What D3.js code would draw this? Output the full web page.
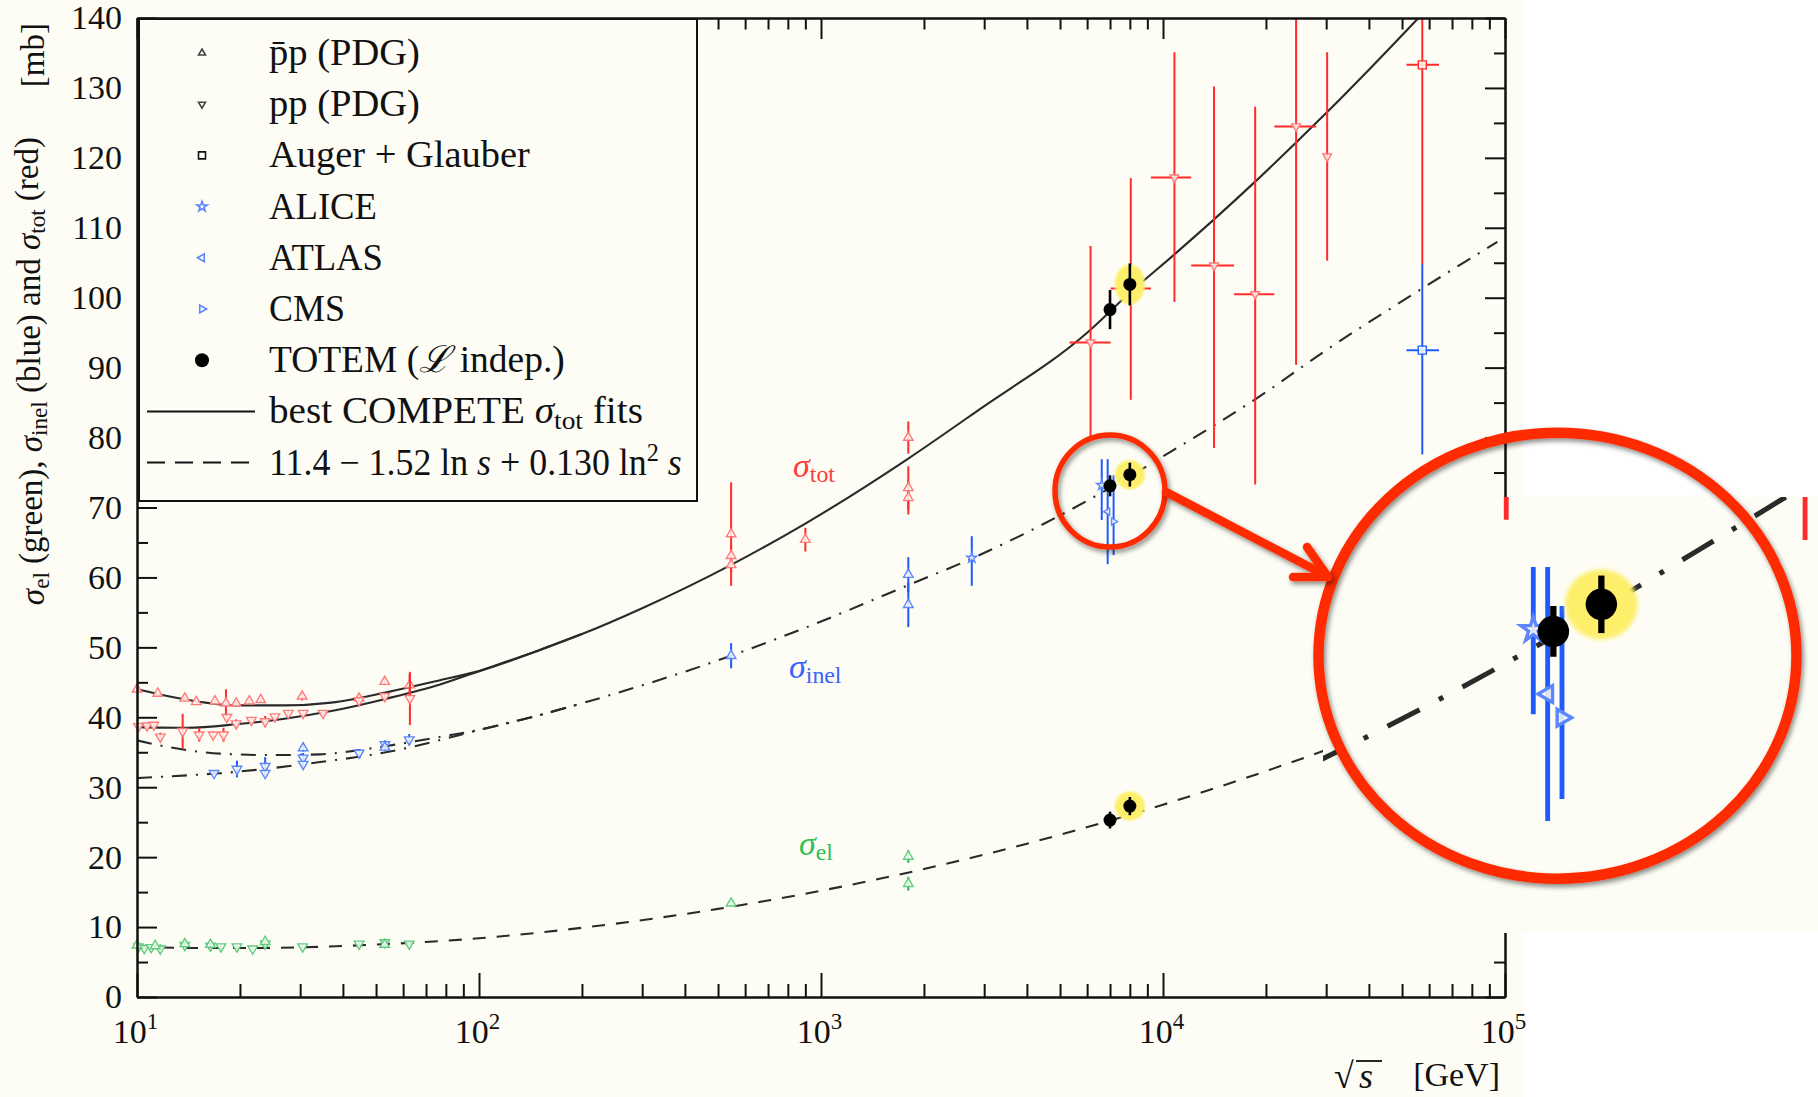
<!DOCTYPE html>
<html>
<head>
<meta charset="utf-8">
<script src="https://cdn.jsdelivr.net/npm/d3@7"></script>
<style>
html, body { margin: 0; padding: 0; background: #fff; }
svg { display: block; }
text { font-family: "Liberation Serif", "Times New Roman", serif; }
</style>
</head>
<body>
<svg id="chart" width="1818" height="1097"></svg>
<script>
// ---- fit curves: [sqrt(s) GeV, sigma mb] ----
const fitTotPbarPLow = [[10,44.0],[14,42.5],[19.5,41.7],[27,41.7],[37,42.1],[54,43.6],[77,45.3]];
const fitTotPPLow = [[10,38.6],[14,38.5],[19.5,39.0],[27,39.8],[37,40.9],[54,42.7],[77,44.7]];
const fitTotHigh = [[100,46.6],[150,49.6],[200,51.9],[300,55.6],[546,61.8],[900,67.7],[1800,77.0],[2900,84.0],[6000,95.0],
  [8000,100.7],[10800,106.2],[14100,111.2],[18600,116.6],[24500,122.2],[30000,126.4],[40000,132.6],[54600,139.5],[70000,145.1]];
const fitInelUpperLow = [[10,36.7],[12.5,35.7],[17.5,34.8],[24.5,34.6],[34.3,34.7],[43,35.2],[53.7,35.9],[75,37.1]];
const fitInelLowerLow = [[10,31.3],[14,31.7],[17.5,32.0],[24.5,32.7],[34.3,33.6],[48,34.6],[62.8,35.7],[75,36.6]];
const fitInelHigh = [[100,38.2],[150,40.3],[200,42.0],[546,48.8],[1000,53.7],[1800,58.9],[2760,62.7],[7000,72.8],
  [10000,77.3],[20000,86.5],[30000,92.5],[50000,99.5],[95000,108.0]];
const fitEl = [[10,7.2],[15,7.0],[20,7.0],[30,7.1],[50,7.5],[100,8.4],[200,9.9],[500,12.6],[1000,15.2],[2000,18.3],
  [5000,23.2],[10000,27.5],[20000,32.3],[50000,39.4],[100000,45.3]];

// ---- accelerator data: [sqrt(s), sigma, error] ----
const totPbarP = [[10.0,44.0,0.3],[11.5,43.4,0.3],[13.8,42.7,0.4],[14.9,42.2,0.3],[16.9,42.3,0.3],[18.2,42.0,2.0],
  [19.5,42.0,0.3],[21.3,42.3,0.3],[23.0,42.5,0.3],[30.4,43.0,0.6],[44.6,42.7,0.5],[53.0,45.1,0.5],[62.7,44.6,1.6],
  [546,66.2,7.4],[546,63.1,1.5],[546,61.8,1.0],[900,65.4,1.7],[1800,80.0,2.3],[1800,72.8,3.1],[1800,71.4,2.4]];
const totPP = [[10.1,38.7,0.3],[10.7,38.8,0.3],[11.2,38.9,0.3],[11.7,37.2,0.6],[13.6,38.0,2.5],[15.2,37.5,1.0],
  [16.7,37.5,0.5],[17.9,37.5,1.0],[18.3,40.0,0.5],[19.5,39.1,0.6],[21.6,39.6,0.3],[23.7,39.4,0.8],[25.3,40.1,0.3],
  [27.7,40.6,0.3],[30.6,40.6,0.3],[35.0,40.6,0.3],[44.6,42.4,0.4],[53.0,43.0,0.4],[62.8,42.7,3.8]];
const inelPP = [[16.8,32.0,0.3],[19.6,32.6,1.2],[23.7,33.0,1.3],[23.7,32.0,0.5],[30.6,34.2,0.7],[30.6,33.3,0.5],
  [44.6,34.9,0.4],[53.1,36.1,0.6],[62.5,36.8,0.8]];
const inelPbarP = [[30.6,35.6,0.5],[53.1,35.7,0.4],[546,48.8,1.8],[1800,60.4,2.5],[1800,56.1,3.2]];
const elPP = [[10.1,7.2,0.2],[10.5,7.0,0.2],[11.0,7.1,0.2],[11.7,6.9,0.6],[13.8,7.4,0.7],[16.4,7.3,0.2],[17.6,7.2,0.2],
  [19.6,7.2,0.2],[21.8,6.9,0.2],[23.7,7.6,0.6],[30.5,7.2,0.3],[44.6,7.6,0.2],[53.0,7.8,0.3],[62.5,7.6,0.3]];
const elPbarP = [[10.0,7.4,0.2],[11.3,7.3,0.2],[13.8,7.6,0.4],[16.4,7.5,0.2],[23.7,7.9,0.4],[53.0,7.5,0.3],
  [546,13.4,0.4],[1800,20.1,0.9],[1800,16.2,1.0]];

// ---- cosmic rays: [sqrt(s), sigma, low, high, sqrt(s) low, sqrt(s) high] ----
const cosmicTot = [[6140,93.6,79.7,107.4,5330,7030],[8050,101.3,85.4,117.1,7030,9220],[10800,117.2,99.4,135.1,9220,12090],
  [14100,104.6,78.5,130.2,12090,16140],[18600,100.5,73.3,127.3,16140,21160],[24500,124.5,90.4,150,21160,28050],
  [30200,120.2,105.3,135.1,null,null]];
const augerTot = [[57300,133.3,104.8,160,51500,64100]];
const augerInel = [[57300,92.5,77.6,104.8,51500,64100]];

// ---- LHC inelastic: [sqrt(s), sigma, low, high] ----
const aliceInel = [[2760,62.8,58.8,65.9],[6620,73.2,68.2,76.9]];
const atlasInel = [[6890,69.4,61.9,76.9]];
const cmsInel = [[7170,68.0,63.2,74.6]];

// ---- TOTEM (luminosity independent): [sqrt(s), sigma, error] ----
const totemTot = [[7000,98.3,2.8],[8000,101.9,3.0]];
const totemInel = [[7000,73.1,1.5],[8000,74.7,1.7]];
const totemEl = [[7000,25.3,1.2],[8000,27.3,1.3]];
const highlightS = 8000;

const yTicks = d3.range(0, 141, 10);
const yMinor = d3.range(5, 140, 10);
const xDecades = [10, 100, 1000, 10000, 100000];
const xMinor = [10, 100, 1000, 10000].flatMap(d => d3.range(2, 10).map(k => k * d));

// ---------------------------------------------------------------
const CREAM = '#fdfdf5';
const RED = '#ff2b2b', RED_M = '#ff7b7b';
const BLUE = '#1d5bff', BLUE_M = '#5b86ff';
const GREEN = '#22b04c', GREEN_M = '#5fcd80';
const RING = '#fe2c00';

const svg = d3.select('#chart');
const x = d3.scaleLog().domain([10, 1e5]).range([137, 1505]);
const y = d3.scaleLinear().domain([0, 140]).range([997, 18]);

const defs = svg.append('defs');
defs.append('clipPath').attr('id', 'plotClip')
  .append('rect').attr('x', 0).attr('y', 18).attr('width', 1505).attr('height', 990);
defs.append('clipPath').attr('id', 'insetClip')
  .append('rect').attr('x', 1323).attr('y', 497).attr('width', 495).attr('height', 436);
defs.append('filter').attr('id', 'shadow').attr('x', '-20%').attr('y', '-20%').attr('width', '140%').attr('height', '140%')
  .append('feDropShadow').attr('dx', 2).attr('dy', 3).attr('stdDeviation', 2.5)
  .attr('flood-color', '#000').attr('flood-opacity', 0.45);
defs.append('filter').attr('id', 'soft')
  .append('feGaussianBlur').attr('stdDeviation', 0.8);

svg.append('rect').attr('width', 1818).attr('height', 1097).attr('fill', '#fff');
svg.append('rect').attr('width', 1523).attr('height', 1097).attr('fill', CREAM);

const toErr = arr => arr.map(([s, v, e]) => ({s, v, lo: v - e, hi: v + e}));
const toRange = arr => arr.map(([s, v, lo, hi, sLo, sHi]) => ({s, v, lo, hi, sLo, sHi}));

const shape = (type, r) => {
  const a = r * 0.87, b = r * 0.5;
  switch (type) {
    case 'up': return `M0,${-r}L${a},${b}L${-a},${b}Z`;
    case 'down': return `M0,${r}L${a},${-b}L${-a},${-b}Z`;
    case 'left': return `M${-r},0L${b},${-a}L${b},${a}Z`;
    case 'right': return `M${r},0L${-b},${-a}L${-b},${a}Z`;
    case 'square': return `M${-r},${-r}H${r}V${r}H${-r}Z`;
    case 'star': return d3.symbol(d3.symbolStar, r * r * 1.6)();
  }
};

// ---------------- plot content (also reused by the magnified inset) ----------------
const plot = svg.append('g').attr('id', 'plotContent').attr('clip-path', 'url(#plotClip)');
const line = d3.line().x(d => x(d[0])).y(d => y(d[1])).curve(d3.curveMonotoneX);

const curves = [
  {d: fitEl, dash: '13,11'},
  {d: fitInelUpperLow.concat(fitInelHigh), dash: '15,9,2,9'},
  {d: fitInelLowerLow.concat(fitInelHigh.slice(0, 3)), dash: '15,9,2,9'},
  {d: fitTotPbarPLow.concat(fitTotHigh), dash: null},
  {d: fitTotPPLow.concat(fitTotHigh.slice(0, 3)), dash: null}
];
plot.selectAll('path.fit').data(curves).join('path')
  .attr('class', 'fit')
  .attr('d', c => line(c.d))
  .attr('fill', 'none')
  .attr('stroke', '#2a2a2a')
  .attr('stroke-width', 2.1)
  .attr('stroke-dasharray', c => c.dash);

const series = [
  {pts: toErr(totPbarP), col: RED, mcol: RED_M, m: 'up', r: 5.5},
  {pts: toErr(totPP), col: RED, mcol: RED_M, m: 'down', r: 5.5},
  {pts: toRange(cosmicTot), col: RED, mcol: RED_M, m: 'down', r: 5},
  {pts: toRange(augerTot), col: RED, mcol: RED, m: 'square', r: 4},
  {pts: toErr(inelPP), col: BLUE, mcol: BLUE_M, m: 'down', r: 5.5},
  {pts: toErr(inelPbarP), col: BLUE, mcol: BLUE_M, m: 'up', r: 5.5},
  {pts: toRange(augerInel), col: BLUE, mcol: BLUE, m: 'square', r: 4},
  {pts: toRange(aliceInel), col: BLUE, mcol: BLUE_M, m: 'star', r: 4.5},
  {pts: toRange(atlasInel), col: BLUE, mcol: BLUE_M, m: 'left', r: 4},
  {pts: toRange(cmsInel), col: BLUE, mcol: BLUE_M, m: 'right', r: 4},
  {pts: toErr(elPP), col: GREEN, mcol: GREEN_M, m: 'down', r: 5.5},
  {pts: toErr(elPbarP), col: GREEN, mcol: GREEN_M, m: 'up', r: 5.5}
];

series.forEach(sr => {
  const g = plot.append('g');
  g.selectAll('line.v').data(sr.pts).join('line').attr('class', 'v')
    .attr('x1', d => x(d.s)).attr('x2', d => x(d.s))
    .attr('y1', d => y(d.lo)).attr('y2', d => y(d.hi))
    .attr('stroke', sr.col).attr('stroke-width', 2);
  g.selectAll('line.h').data(sr.pts.filter(d => d.sLo)).join('line').attr('class', 'h')
    .attr('x1', d => x(d.sLo)).attr('x2', d => x(d.sHi))
    .attr('y1', d => y(d.v)).attr('y2', d => y(d.v))
    .attr('stroke', sr.col).attr('stroke-width', 2);
  g.selectAll('path').data(sr.pts).join('path')
    .attr('transform', d => `translate(${x(d.s)},${y(d.v)})`)
    .attr('d', shape(sr.m, sr.r))
    .attr('fill', CREAM).attr('fill-opacity', 0.85)
    .attr('stroke', sr.mcol).attr('stroke-width', 1.4);
});

// TOTEM: yellow highlight for the 8 TeV points, then black points
const totem = [
  {pts: toErr(totemTot), ry: 20},
  {pts: toErr(totemInel), ry: 14.5},
  {pts: toErr(totemEl), ry: 14.5}
];
totem.forEach(t => {
  plot.append('g').selectAll('ellipse').data(t.pts.filter(d => d.s === highlightS)).join('ellipse')
    .attr('cx', d => x(d.s)).attr('cy', d => y(d.v))
    .attr('rx', 15).attr('ry', t.ry)
    .attr('fill', '#fdef6a').attr('filter', 'url(#soft)');
});
totem.forEach(t => {
  const g = plot.append('g');
  g.selectAll('line').data(t.pts).join('line')
    .attr('x1', d => x(d.s)).attr('x2', d => x(d.s))
    .attr('y1', d => y(d.lo)).attr('y2', d => y(d.hi))
    .attr('stroke', '#000').attr('stroke-width', 2.6);
  g.selectAll('circle').data(t.pts).join('circle')
    .attr('cx', d => x(d.s)).attr('cy', d => y(d.v)).attr('r', 6.5).attr('fill', '#000');
});

// ---------------- axes ----------------
const axisStyle = g => {
  g.attr('font-family', '"Liberation Serif", serif').attr('font-size', 34);
  g.select('.domain').attr('stroke', '#111').attr('stroke-width', 2);
  g.selectAll('.tick line').attr('stroke', '#111').attr('stroke-width', 2);
  g.selectAll('.tick text').attr('fill', '#111');
};
svg.append('g').attr('transform', 'translate(137,0)')
  .call(d3.axisLeft(y).tickValues(yTicks).tickSizeInner(-20).tickSizeOuter(0).tickPadding(15).tickFormat(d3.format('d')))
  .call(axisStyle);
svg.append('g').attr('transform', 'translate(137,0)')
  .call(d3.axisLeft(y).tickValues(yMinor).tickSizeInner(-11).tickSizeOuter(0).tickFormat(''))
  .call(axisStyle);
svg.append('g').attr('transform', 'translate(1505,0)')
  .call(d3.axisRight(y).tickValues(yTicks).tickSizeInner(-20).tickSizeOuter(0).tickFormat(''))
  .call(axisStyle);
svg.append('g').attr('transform', 'translate(1505,0)')
  .call(d3.axisRight(y).tickValues(yMinor).tickSizeInner(-11).tickSizeOuter(0).tickFormat(''))
  .call(axisStyle);
svg.append('g').attr('transform', 'translate(0,18)')
  .call(d3.axisTop(x).tickValues(xDecades).tickSizeInner(-21).tickSizeOuter(0).tickFormat(''))
  .call(axisStyle);
svg.append('g').attr('transform', 'translate(0,18)')
  .call(d3.axisTop(x).tickValues(xMinor).tickSizeInner(-11.5).tickSizeOuter(0).tickFormat(''))
  .call(axisStyle);
svg.append('g').attr('transform', 'translate(0,997)')
  .call(d3.axisBottom(x).tickValues(xMinor).tickSizeInner(-13).tickSizeOuter(0).tickFormat(''))
  .call(axisStyle);
const xAxis = svg.append('g').attr('transform', 'translate(0,997)')
  .call(d3.axisBottom(x).tickValues(xDecades).tickSizeInner(-24).tickSizeOuter(0).tickPadding(22))
  .call(axisStyle);
xAxis.selectAll('.tick text').each(function(d) {
  const t = d3.select(this).text(null).attr('dx', -2);
  t.append('tspan').text('10');
  t.append('tspan').attr('font-size', 23).attr('dy', -14).text(Math.round(Math.log10(d)));
});

// axis titles
const yTitle = svg.append('text').attr('transform', 'translate(44,137) rotate(-90)')
  .attr('text-anchor', 'end').attr('font-size', 33).attr('fill', '#111');
const sigma = (t, sub) => {
  t.append('tspan').attr('font-style', 'italic').text('σ');
  t.append('tspan').attr('font-size', '0.7em').attr('dy', '0.22em').text(sub);
};
sigma(yTitle, 'el');
yTitle.append('tspan').attr('dy', -7).text(' (green), ');
sigma(yTitle, 'inel');
yTitle.append('tspan').attr('dy', -7).text(' (blue) and ');
sigma(yTitle, 'tot');
yTitle.append('tspan').attr('dy', -7).text(' (red)');
svg.append('text').attr('transform', 'translate(44,23) rotate(-90)')
  .attr('text-anchor', 'end').attr('font-size', 33).attr('fill', '#111').text('[mb]');

svg.append('text').attr('x', 1334).attr('y', 1088).attr('font-size', 36).attr('fill', '#111').text('√');
svg.append('line').attr('x1', 1356).attr('x2', 1382).attr('y1', 1061).attr('y2', 1061)
  .attr('stroke', '#111').attr('stroke-width', 1.8);
svg.append('text').attr('x', 1359).attr('y', 1088).attr('font-size', 36).attr('font-style', 'italic')
  .attr('fill', '#111').text('s');
svg.append('text').attr('x', 1500).attr('y', 1086).attr('text-anchor', 'end').attr('font-size', 34)
  .attr('fill', '#111').text('[GeV]');

// curve labels
const curveLabel = (xx, yy, col, sub) => {
  const t = svg.append('text').attr('x', xx).attr('y', yy).attr('font-size', 34).attr('fill', col);
  sigma(t, sub);
};
curveLabel(793, 477, '#ff3b3b', 'tot');
curveLabel(789, 678, '#3a62ff', 'inel');
curveLabel(799, 855, '#2fbf55', 'el');

// ---------------- legend ----------------
const legend = svg.append('g');
legend.append('rect').attr('x', 139).attr('y', 19).attr('width', 558).attr('height', 482)
  .attr('fill', CREAM).attr('stroke', '#111').attr('stroke-width', 2);
const legendRows = [
  {m: 'up', c: '#444', r: 4},
  {m: 'down', c: '#444', r: 4},
  {m: 'square', c: '#111', r: 3.5},
  {m: 'star', c: BLUE_M, r: 4.5},
  {m: 'left', c: BLUE_M, r: 4.5},
  {m: 'right', c: BLUE_M, r: 4.5},
  {m: 'dot', c: '#000', r: 7},
  {m: 'solid', c: '#111'},
  {m: 'dash', c: '#111'}
];
const rowY = i => 53 + i * 51.2;
legendRows.forEach((row, i) => {
  const cy = rowY(i);
  if (row.m === 'dot') {
    legend.append('circle').attr('cx', 202).attr('cy', cy).attr('r', row.r).attr('fill', row.c);
  } else if (row.m === 'solid' || row.m === 'dash') {
    legend.append('line').attr('x1', 147).attr('x2', 255).attr('y1', cy).attr('y2', cy)
      .attr('stroke', row.c).attr('stroke-width', 2).attr('stroke-dasharray', row.m === 'dash' ? '18,10' : null);
  } else {
    legend.append('path').attr('transform', `translate(202,${cy})`).attr('d', shape(row.m, row.r))
      .attr('fill', 'none').attr('stroke', row.c).attr('stroke-width', 1.6);
  }
});
// each legend text is stretched horizontally to the width seen in the picture
const ltext = (i, len) => {
  const t = legend.append('text').attr('font-size', 37).attr('fill', '#111');
  t.node().__len = len;
  t.node().__row = i;
  return t;
};
ltext(0, 151).text('p\u0304p (PDG)');
ltext(1, 151).text('pp (PDG)');
ltext(2, 261).text('Auger + Glauber');
ltext(3, 108).text('ALICE');
ltext(4, 114).text('ATLAS');
ltext(5, 76).text('CMS');
const tt = ltext(6, 296);
tt.append('tspan').text('TOTEM (');
tt.append('tspan').attr('font-style', 'italic').text('ℒ');
tt.append('tspan').text(' indep.)');
const tb = ltext(7, 374);
tb.append('tspan').text('best COMPETE ');
sigma(tb, 'tot');
tb.append('tspan').attr('dy', '-0.154em').text(' fits');
const tf = ltext(8, 413);
tf.append('tspan').text('11.4 − 1.52 ln ');
tf.append('tspan').attr('font-style', 'italic').text('s');
tf.append('tspan').text(' + 0.130 ln');
tf.append('tspan').attr('font-size', 25).attr('dy', -14).text('2');
tf.append('tspan').attr('dy', 14).attr('font-style', 'italic').text(' s');
legend.selectAll('text').each(function() {
  const w = this.getBBox().width;
  const k = w > 0 ? this.__len / w : 1;
  d3.select(this).attr('transform', `translate(269,${rowY(this.__row) + 12}) scale(${k},1)`);
});

// ---------------- magnified inset ----------------
const inset = svg.append('g').attr('clip-path', 'url(#insetClip)');
inset.append('rect').attr('x', 1323).attr('y', 497).attr('width', 495).attr('height', 436).attr('fill', CREAM);
inset.append('use').attr('href', '#plotContent')
  .attr('transform', 'translate(-1132.9,-544.3) scale(2.42)');

svg.append('ellipse').attr('cx', 1557.5).attr('cy', 655.7).attr('rx', 239).attr('ry', 223)
  .attr('fill', 'none').attr('stroke', RING).attr('stroke-width', 10.5).attr('filter', 'url(#shadow)');

// small circle + arrow
svg.append('ellipse').attr('cx', 1110).attr('cy', 491).attr('rx', 55).attr('ry', 56)
  .attr('fill', 'none').attr('stroke', RING).attr('stroke-width', 5.5).attr('filter', 'url(#shadow)');
const arrow = svg.append('g').attr('filter', 'url(#shadow)')
  .attr('fill', 'none').attr('stroke', RING).attr('stroke-width', 8.5)
  .attr('stroke-linecap', 'round').attr('stroke-linejoin', 'round');
arrow.append('path').attr('d', 'M1166,492L1327,576');
arrow.append('path').attr('d', 'M1307,547L1328,577L1293,577');
</script>
</body>
</html>
